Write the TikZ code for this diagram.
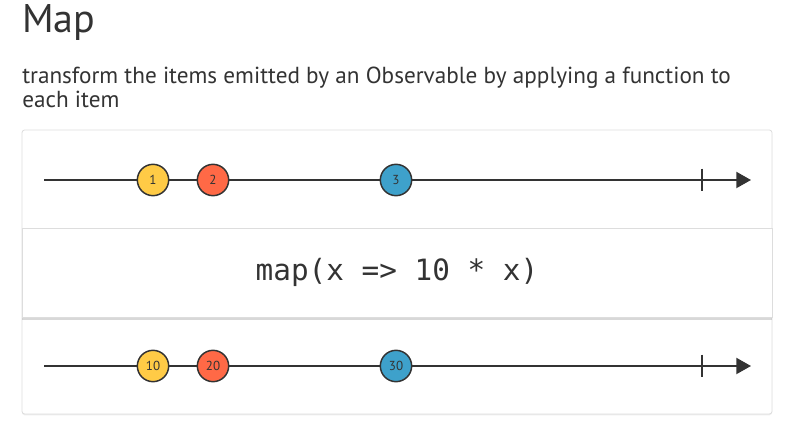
\documentclass[tikz,border=0pt]{standalone}
\usepackage{fontspec}
\setmainfont{PT Sans}
\newfontfamily\codefont{DejaVu Sans Mono}
\usetikzlibrary{arrows.meta,shadows}
\definecolor{ink}{HTML}{333333}
\definecolor{mYellow}{HTML}{FFCB46}
\definecolor{mRed}{HTML}{FF6946}
\definecolor{mBlue}{HTML}{3EA1CB}
\definecolor{cardline}{HTML}{DDDDDD}
\tikzset{
  marble/.style={circle, draw=ink, line width=1.1pt, minimum size=23.5pt, inner sep=0pt, text=ink, font=\fontsize{9.8}{11}\selectfont},
  timeline/.style={draw=ink, line width=1.5pt, -{Triangle[length=11pt,width=12pt]}},
  tickmark/.style={draw=ink, line width=1.5pt},
  card/.style={draw=cardline, fill=white, rounded corners=2pt, line width=0.6pt},
}
\begin{document}
\begin{tikzpicture}[x=0.75pt,y=-0.75pt]
\useasboundingbox[fill=white] (0,0) rectangle (794,424);
% title and description
\node[anchor=base west, inner sep=0pt, text=ink, font=\fontsize{30}{36}\selectfont] (title) at (22,33) {Map};
\node[anchor=base west, inner sep=0pt, text=ink, font=\fontsize{17.4}{20}\selectfont] (desc1) at (22,84) {transform the items emitted by an Observable by applying a function to};
\node[anchor=base west, inner sep=0pt, text=ink, font=\fontsize{17.4}{20}\selectfont] (desc2) at (22,108) {each item};
% outer card
\draw[card, drop shadow={opacity=0.12, shadow xshift=0pt, shadow yshift=-1pt}] (22,130) rectangle (772,414);
% top timeline
\coordinate (t0) at (44,180);
\coordinate (t1) at (751,180);
\draw[timeline] (t0) -- (t1);
\coordinate (tt) at (702,180);
\draw[tickmark] ([yshift=8.5pt]tt) -- ([yshift=-8.5pt]tt);
\node[marble, fill=mYellow] (a1) at (153,180) {1};
\node[marble, fill=mRed] (a2) at (213,180) {2};
\node[marble, fill=mBlue] (a3) at (396,180) {3};
% operator box
\node[draw=cardline, fill=white, line width=0.6pt, minimum width=562.5pt, minimum height=66.75pt, inner sep=0pt,
  drop shadow={opacity=0.3, shadow xshift=0pt, shadow yshift=-2pt},
  text=ink, font=\codefont\fontsize{22}{26}\selectfont] (op) at (397,272.5) {map(x => 10 * x)};
% bottom timeline
\coordinate (b0) at (44,366);
\coordinate (b1) at (751,366);
\draw[timeline] (b0) -- (b1);
\coordinate (bt) at (702,366);
\draw[tickmark] ([yshift=8.5pt]bt) -- ([yshift=-8.5pt]bt);
\node[marble, fill=mYellow] (c1) at (153,366) {10};
\node[marble, fill=mRed] (c2) at (213,366) {20};
\node[marble, fill=mBlue] (c3) at (396,366) {30};
\end{tikzpicture}
\end{document}
